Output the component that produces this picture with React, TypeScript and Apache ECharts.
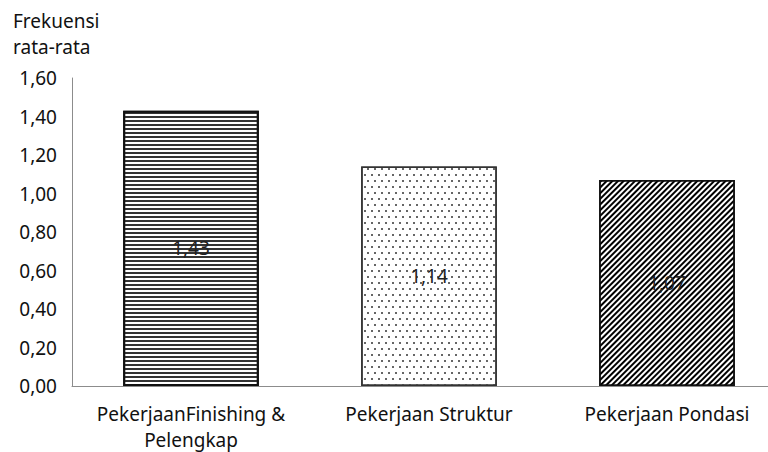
import React, { useEffect, useRef } from "react";
import * as echarts from "echarts";

const categories = ["PekerjaanFinishing &\nPelengkap", "Pekerjaan Struktur", "Pekerjaan Pondasi"];
const values = [1.43, 1.14, 1.07];
const yTicks = [0, 0.2, 0.4, 0.6, 0.8, 1.0, 1.2, 1.4, 1.6];
const yTitle = "Frekuensi\nrata-rata";

const FONT = "Noto Sans";
const FS = 19;
const fmt = (v: number) => v.toFixed(2).replace(".", ",");

const decals = [
  { symbol: "rect", symbolSize: 1, dashArrayX: [1, 0], dashArrayY: [2, 2], rotation: 0, color: "#333", backgroundColor: "#fff" },
  { symbol: "rect", symbolSize: 1, dashArrayX: [[1.5, 4.5], [0, 3, 1.5, 1.5]], dashArrayY: [1.5, 3.5], rotation: 0, color: "#666", backgroundColor: "#fff" },
  { symbol: "rect", symbolSize: 1, dashArrayX: [1, 0], dashArrayY: [2, 2], rotation: -Math.PI / 4, color: "#000", backgroundColor: "#fff" },
];

export default function App() {
  const ref = useRef<HTMLDivElement>(null);
  useEffect(() => {
    if (!ref.current) return;
    const chart = echarts.init(ref.current, null, { renderer: "svg" });
    chart.setOption({
      animation: false,
      backgroundColor: "#fff",
      textStyle: { fontFamily: FONT },
      title: {
        text: yTitle,
        left: 8,
        top: 3,
        textStyle: { fontFamily: FONT, fontSize: FS, fontWeight: "normal", color: "#111", lineHeight: 26 },
      },
      grid: { left: 72, top: 78, width: 714, height: 308, containLabel: false, outerBoundsMode: "none" },
      xAxis: {
        type: "category",
        data: categories,
        axisLine: { lineStyle: { color: "#8c8c8c", width: 1 } },
        axisTick: { show: false },
        axisLabel: { fontFamily: FONT, fontSize: FS, color: "#111", margin: 15, lineHeight: 26, interval: 0 },
      },
      yAxis: {
        type: "value",
        min: yTicks[0],
        max: yTicks[yTicks.length - 1],
        interval: 0.2,
        axisLine: { show: true, lineStyle: { color: "#8c8c8c", width: 1 } },
        axisTick: { show: false },
        splitLine: { show: false },
        axisLabel: { fontFamily: FONT, fontSize: FS, color: "#111", margin: 15, formatter: (v: number) => fmt(v) },
      },
      series: [
        {
          type: "bar",
          barWidth: "57%",
          data: values.map((v, i) => ({
            value: v,
            itemStyle: { color: "#fff", borderColor: i === 1 ? "#333" : "#111", borderWidth: i === 0 ? 2 : 1.5, decal: decals[i] },
          })),
          label: {
            show: true,
            position: "inside",
            fontFamily: FONT,
            fontSize: FS,
            color: "#222",
            formatter: (p: any) => fmt(p.value),
          },
        },
      ],
    });
    return () => chart.dispose();
  }, []);
  return <div ref={ref} style={{ position: "fixed", left: 0, top: 0, width: 768, height: 452 }} />;
}
